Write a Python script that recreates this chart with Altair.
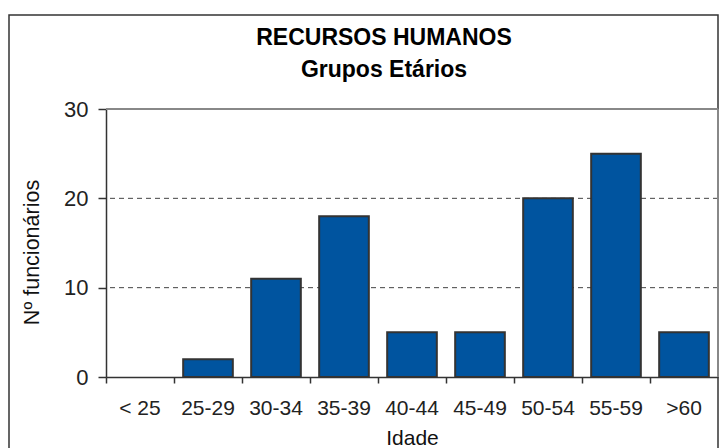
import altair as alt
import pandas as pd

categories = ["< 25", "25-29", "30-34", "35-39", "40-44", "45-49", "50-54", "55-59", ">60"]
values = [0, 2, 11, 18, 5, 5, 20, 25, 5]
grid_dashed = [10, 20]
grid_top = [30]
y_ticks = [0, 10, 20, 30]

FONT = "Liberation Sans"
W, H = 612, 268

df = pd.DataFrame({"cat": categories, "val": values})
xenc = alt.X(
    "cat:N", sort=categories, title="Idade",
    scale=alt.Scale(domain=categories, paddingInner=0, paddingOuter=0),
    axis=alt.Axis(labelAngle=0, bandPosition=0, ticks=True, tickSize=6, tickColor="#333",
                  tickWidth=1.5, domainColor="#333", domainWidth=1.5, labelFont=FONT,
                  labelFontSize=21, labelColor="#222", labelPadding=14, titleFont=FONT,
                  titleFontSize=21, titleFontWeight="normal", titleColor="#111",
                  titlePadding=9, grid=False),
)
yscale = alt.Scale(domain=[0, 30], nice=False)

bars = alt.Chart(df).transform_filter("datum.val > 0").mark_bar(
    width=alt.RelativeBandSize(0.73), color="#00549F", stroke="#333", strokeWidth=2
).encode(
    x=xenc,
    y=alt.Y("val:Q", scale=yscale, title="Nº funcionários",
            axis=alt.Axis(values=y_ticks, grid=False, tickSize=8, tickColor="#333", tickWidth=1.5,
                          domainColor="#333", domainWidth=1.5, labelFont=FONT, labelFontSize=22,
                          labelColor="#222", labelPadding=10, titleFont=FONT, titleFontSize=21.5,
                          titleFontWeight="normal", titleColor="#111", titlePadding=20,
                          titleY=143)),
)

grid = alt.Chart(pd.DataFrame({"v": grid_dashed})).mark_rule(
    color="#444", strokeDash=[5, 4], strokeWidth=1
).encode(y=alt.Y("v:Q", scale=yscale))

top = alt.Chart(pd.DataFrame({"v": grid_top})).mark_rule(
    color="#888", strokeWidth=2
).encode(y=alt.Y("v:Q", scale=yscale))

right = alt.Chart(pd.DataFrame({"v": grid_top})).mark_rule(
    color="#888", strokeWidth=2
).encode(x=alt.value(W), y=alt.value(0), y2=alt.value(H))

border = alt.Chart(pd.DataFrame({"a": [0]})).mark_rect(
    fill="white", fillOpacity=0, stroke="#333", strokeWidth=1.5
).encode(x=alt.value(-97), x2=alt.value(W), y=alt.value(-94), y2=alt.value(H + 80))

chart = alt.layer(border, grid, top, bars, right).properties(
    width=W, height=H,
    padding={"left": 0, "top": 6, "right": 0, "bottom": 0},
    title=alt.TitleParams(
        text="RECURSOS HUMANOS", subtitle="Grupos Etários", font=FONT, subtitleFont=FONT,
        fontSize=23, subtitleFontSize=23, fontWeight="bold", subtitleFontWeight="bold",
        color="#000", subtitleColor="#000", anchor="middle", dx=-28, offset=-68,
        subtitlePadding=9,
    ),
).configure_view(stroke=None).configure(background="white")

chart.save("out.html", embed_options={"renderer": "svg", "actions": False})
